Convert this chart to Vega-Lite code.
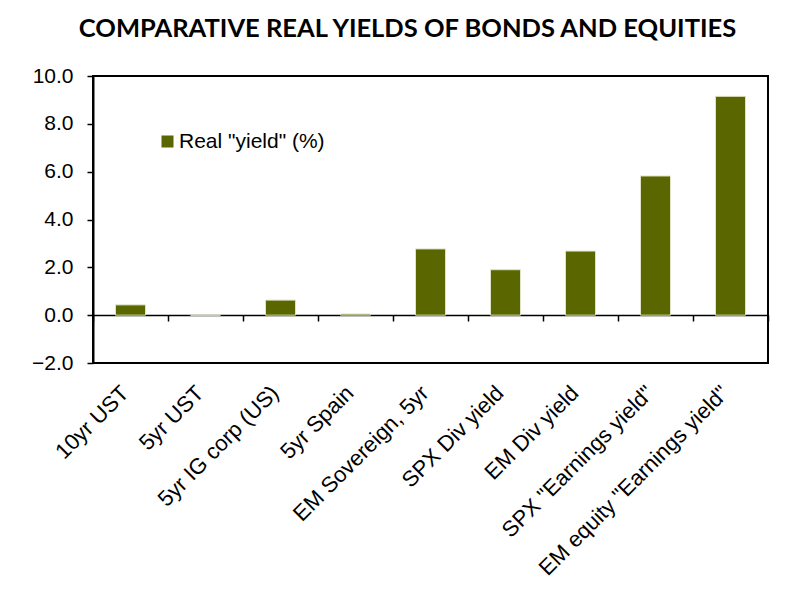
{
  "$schema": "https://vega.github.io/schema/vega-lite/v6.json",
  "width": 675,
  "height": 287,
  "autosize": "none",
  "padding": {"left": 93, "top": 76, "right": 21, "bottom": 226},
  "background": "white",
  "title": {
    "text": "COMPARATIVE REAL YIELDS OF BONDS AND EQUITIES",
    "font": "Lato",
    "fontSize": 25.5,
    "fontWeight": "bold",
    "color": "black",
    "anchor": "middle",
    "frame": "group",
    "baseline": "alphabetic",
    "offset": 3,
    "dx": -23
  },
  "data": {
    "values": [
      {"category": "10yr UST", "value": 0.43, "series": "Real \"yield\" (%)"},
      {"category": "5yr UST", "value": 0.0, "series": "Real \"yield\" (%)"},
      {"category": "5yr IG corp (US)", "value": 0.63, "series": "Real \"yield\" (%)"},
      {"category": "5yr Spain", "value": 0.05, "series": "Real \"yield\" (%)"},
      {"category": "EM Sovereign, 5yr", "value": 2.77, "series": "Real \"yield\" (%)"},
      {"category": "SPX Div yield", "value": 1.9, "series": "Real \"yield\" (%)"},
      {"category": "EM Div yield", "value": 2.68, "series": "Real \"yield\" (%)"},
      {"category": "SPX \"Earnings yield\"", "value": 5.82, "series": "Real \"yield\" (%)"},
      {"category": "EM equity \"Earnings yield\"", "value": 9.15, "series": "Real \"yield\" (%)"}
    ]
  },
  "config": {
    "view": {"stroke": "black", "strokeWidth": 2},
    "axis": {"grid": false}
  },
  "mark": {"type": "bar", "width": {"band": 0.4}, "stroke": "#dfe3c6", "strokeWidth": 1},
  "encoding": {
    "x": {
      "field": "category",
      "type": "nominal",
      "sort": null,
      "scale": {"paddingInner": 0, "paddingOuter": 0},
      "axis": {
        "title": null,
        "labelAngle": -45,
        "labelAlign": "right",
        "labelBaseline": "top",
        "labelOffset": -13,
        "labelFont": "Liberation Sans",
        "labelFontSize": 22,
        "labelColor": "black",
        "labelLimit": 400,
        "tickBand": "extent",
        "ticks": true,
        "tickSize": 6,
        "tickColor": "black",
        "tickWidth": 1.5,
        "domain": true,
        "domainColor": "black",
        "domainWidth": 1.5,
        "offset": -48,
        "labelPadding": 61
      }
    },
    "y": {
      "field": "value",
      "type": "quantitative",
      "scale": {"domain": [-2, 10], "nice": false, "zero": false},
      "axis": {
        "title": null,
        "values": [-2, 0, 2, 4, 6, 8, 10],
        "format": ".1f",
        "labelFont": "Liberation Sans",
        "labelFontSize": 21,
        "labelColor": "black",
        "labelPadding": 14,
        "tickSize": 6,
        "tickColor": "black",
        "tickWidth": 1.5,
        "domainColor": "black",
        "domainWidth": 2
      }
    },
    "color": {
      "field": "series",
      "type": "nominal",
      "scale": {"range": ["#5a6700"]},
      "legend": {
        "title": null,
        "orient": "none",
        "legendX": 64,
        "legendY": 55,
        "symbolType": "square",
        "symbolSize": 144,
        "symbolStrokeWidth": 0,
        "labelFont": "Liberation Sans",
        "labelFontSize": 21,
        "labelColor": "black",
        "labelOffset": 1,
        "labelLimit": 400
      }
    }
  }
}
